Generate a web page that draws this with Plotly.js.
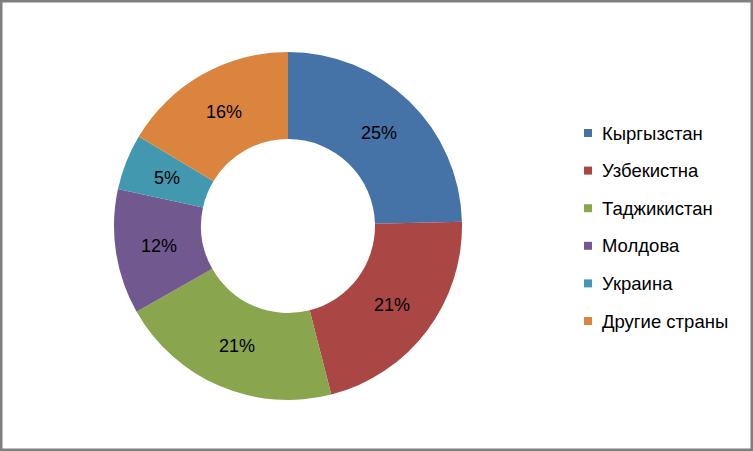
<!DOCTYPE html>
<html>
<head>
<meta charset="utf-8">
<script src="https://cdn.plot.ly/plotly-3.0.1.min.js"></script>
<style>
  html, body { margin: 0; padding: 0; background: #fff; }
  #chart { width: 753px; height: 451px; }
</style>
</head>
<body>
<div id="chart"></div>
<script>
const categories = ["Кыргызстан", "Узбекистна", "Таджикистан", "Молдова", "Украина", "Другие страны"];
const values = [24.6, 21.4, 20.8, 11.6, 5.2, 16.4];
const colors = ["#4572A7", "#AA4643", "#89A54E", "#71588F", "#4198AF", "#DB843D"];

const W = 753, H = 451;
const FONT = "Liberation Sans, Arial, sans-serif";
const HOLE = 0.5;
const domX = [114 / W, 462 / W];
const domY = [(H - 400) / H, (H - 52) / H];

const trace = {
  type: "pie",
  labels: categories,
  values: values,
  sort: false,
  direction: "clockwise",
  rotation: 0,
  hole: HOLE,
  marker: { colors: colors, line: { width: 0 } },
  textinfo: "none",
  hoverinfo: "label+percent",
  showlegend: false,
  domain: { x: domX, y: domY }
};

const shapes = [];
const annotations = [];

// Percent labels at the middle of the ring, mid-angle of each slice (Excel style)
const total = values.reduce((a, b) => a + b, 0);
const cxPx = (domX[0] + domX[1]) / 2 * W;
const cyPx = H - (domY[0] + domY[1]) / 2 * H;
const Rpx = Math.min((domX[1] - domX[0]) * W, (domY[1] - domY[0]) * H) / 2;
const rMid = Rpx * (1 + HOLE) / 2;
let cum = 0;
values.forEach((v) => {
  const mid = (cum + v / 2) / total;
  cum += v;
  const th = 2 * Math.PI * mid;
  const px = cxPx + rMid * Math.sin(th);
  const py = cyPx - rMid * Math.cos(th);
  annotations.push({
    xref: "paper", yref: "paper", x: px / W, y: 1 - py / H,
    xanchor: "center", yanchor: "middle", showarrow: false,
    text: Math.round(v / total * 100) + "%",
    font: { family: FONT, size: 18, color: "#000" }
  });
});

// Manual legend (Excel-style spacing)
const legTop = 133, legStep = 37.6, swX0 = 584, swSize = 8, txtX = 600;
categories.forEach((c, i) => {
  const cy = legTop + i * legStep;
  shapes.push({
    type: "rect", xref: "paper", yref: "paper",
    x0: swX0 / W, x1: (swX0 + swSize) / W,
    y0: 1 - (cy + swSize / 2) / H, y1: 1 - (cy - swSize / 2) / H,
    fillcolor: colors[i], line: { width: 0 }
  });
  annotations.push({
    xref: "paper", yref: "paper", x: txtX / W, y: 1 - cy / H,
    xanchor: "left", yanchor: "middle", showarrow: false,
    text: c, font: { family: FONT, size: 18.5, color: "#000" }
  });
});
// outer frame
shapes.push({
  type: "rect", xref: "paper", yref: "paper", x0: 0, x1: 1, y0: 0, y1: 1,
  line: { color: "#7f7f7f", width: 5 }, fillcolor: "rgba(0,0,0,0)"
});

const layout = {
  width: W, height: H,
  margin: { l: 0, r: 0, t: 0, b: 0 },
  paper_bgcolor: "#fff",
  showlegend: false,
  shapes: shapes,
  annotations: annotations
};

Plotly.newPlot("chart", [trace], layout, { displayModeBar: false, staticPlot: true });
</script>
</body>
</html>
